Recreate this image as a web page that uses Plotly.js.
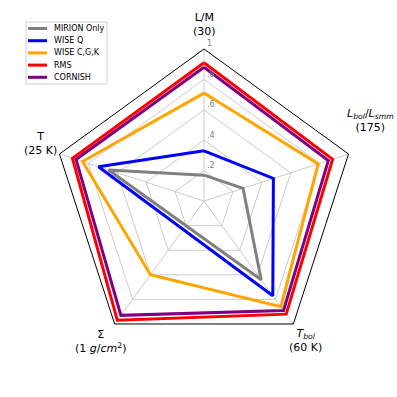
<!DOCTYPE html>
<html>
<head>
<meta charset="utf-8">
<script src="https://cdn.plot.ly/plotly-3.0.1.min.js"></script>
<style>
  html, body { margin: 0; padding: 0; background: #fff; }
  #radar { width: 397px; height: 397px; }
</style>
</head>
<body>
<div id="radar"></div>
<script>
// axes of the radar, clockwise from the top
let axisKeys = ["LM", "Lbol", "Tbol", "Sigma", "T"];
let axisLabels = [
  "L/M<br>(30)",
  "<i>L</i><sub><i>bol</i></sub>/<i>L</i><sub><i>smm</i></sub><br>(175)",
  "<i>T</i><sub><i>bol</i></sub><br>(60 K)",
  "Σ<br>(1 <i>g</i>/<i>cm</i><sup>2</sup>)",
  "T<br>(25 K)"
];

// series (null = no value on that axis, line goes straight across)
let seriesNames = ["MIRION Only", "WISE Q", "WISE C,G,K", "RMS", "CORNISH"];
let seriesColors = ["#808080", "#0000ff", "#ffa500", "#ff0000", "#800080"];
let mirionOnly = [0.17, 0.27, 0.64, null, 0.66];
let wiseQ      = [0.33, 0.48, 0.77, null, 0.73];
let wiseCGK    = [0.71, 0.79, 0.86, 0.60, 0.84];
let rms        = [0.91, 0.89, 0.92, 0.97, 0.91];
let cornish    = [0.88, 0.86, 0.89, 0.93, 0.885];

let radialTicks = [0.2, 0.4, 0.6, 0.8, 1];
let radialTickText = [".2", ".4", ".6", ".8", "1"];

//close the polygon by repeating the first point
function closeLoop(arr) {
  return arr.concat([arr[0]]);
}

let allSeries = [mirionOnly, wiseQ, wiseCGK, rms, cornish];
let data = [];
for (let i = 0; i < allSeries.length; i++) {
  data.push({
    type: "scatterpolar",
    r: closeLoop(allSeries[i]),
    theta: closeLoop(axisKeys),
    mode: "lines",
    connectgaps: true,
    name: seriesNames[i],
    showlegend: false,
    line: {color: seriesColors[i], width: 3},
    hoverinfo: "skip"
  });
}

// pixel -> paper helpers (plot area is 52..356 x 49..353, polar centre 204,201 radius 152)
function px(x) { return (x - 52) / 304; }
function py(y) { return (353 - y) / 304; }

// label spots around the pentagon (pixels)
let labelSpots = [[204, 25], [370, 120], [305, 340], [100, 341], [40, 143]];
let annotations = [];
for (let i = 0; i < axisLabels.length; i++) {
  annotations.push({
    text: axisLabels[i],
    xref: "paper", yref: "paper",
    x: px(labelSpots[i][0]), y: py(labelSpots[i][1]),
    xanchor: "center", yanchor: "middle",
    showarrow: false,
    align: "center",
    font: {size: 11, color: "#000"}
  });
}

// radial tick labels, sitting just right of the top spoke and above each ring
for (let i = 0; i < radialTicks.length; i++) {
  annotations.push({
    text: radialTickText[i],
    xref: "paper", yref: "paper",
    x: px(205), y: py(201 - 152 * radialTicks[i] - 5),
    xanchor: "left", yanchor: "middle",
    showarrow: false,
    font: {size: 8, color: "#808080"}
  });
}

// compact legend box drawn by hand (plotly's own has a taller minimum row)
let shapes = [{
  type: "rect", xref: "paper", yref: "paper",
  x0: px(26), x1: px(107), y0: py(22), y1: py(84),
  line: {color: "#d0d0d0", width: 1}, fillcolor: "#fff", layer: "above"
}];
for (let i = 0; i < seriesNames.length; i++) {
  let rowY = 28.5 + i * 12.2;
  shapes.push({
    type: "line", xref: "paper", yref: "paper",
    x0: px(28), x1: px(47), y0: py(rowY), y1: py(rowY),
    line: {color: seriesColors[i], width: 3}, layer: "above"
  });
  annotations.push({
    text: seriesNames[i],
    xref: "paper", yref: "paper",
    x: px(52), y: py(rowY),
    xanchor: "left", yanchor: "middle",
    showarrow: false,
    font: {size: 8, color: "#000"}
  });
}

let layout = {
  width: 397,
  height: 397,
  margin: {l: 52, r: 41, t: 49, b: 44},
  paper_bgcolor: "#fff",
  font: {family: "DejaVu Sans", color: "#000"},
  showlegend: false,
  annotations: annotations,
  shapes: shapes,
  polar: {
    bgcolor: "#fff",
    gridshape: "linear",
    domain: {x: [0, 1], y: [0, 1]},
    angularaxis: {
      type: "category",
      categoryarray: axisKeys,
      direction: "clockwise",
      rotation: 90,
      showticklabels: false,
      ticks: "",
      showline: true,
      linecolor: "#000",
      linewidth: 1,
      showgrid: true,
      gridcolor: "#cccccc",
      gridwidth: 1
    },
    radialaxis: {
      range: [0, 1],
      angle: 90,
      tickvals: radialTicks,
      showticklabels: false,
      ticks: "",
      showline: false,
      showgrid: true,
      gridcolor: "#cccccc",
      gridwidth: 1
    }
  }
};

Plotly.newPlot("radar", data, layout, {displayModeBar: false, staticPlot: true});
</script>
</body>
</html>
